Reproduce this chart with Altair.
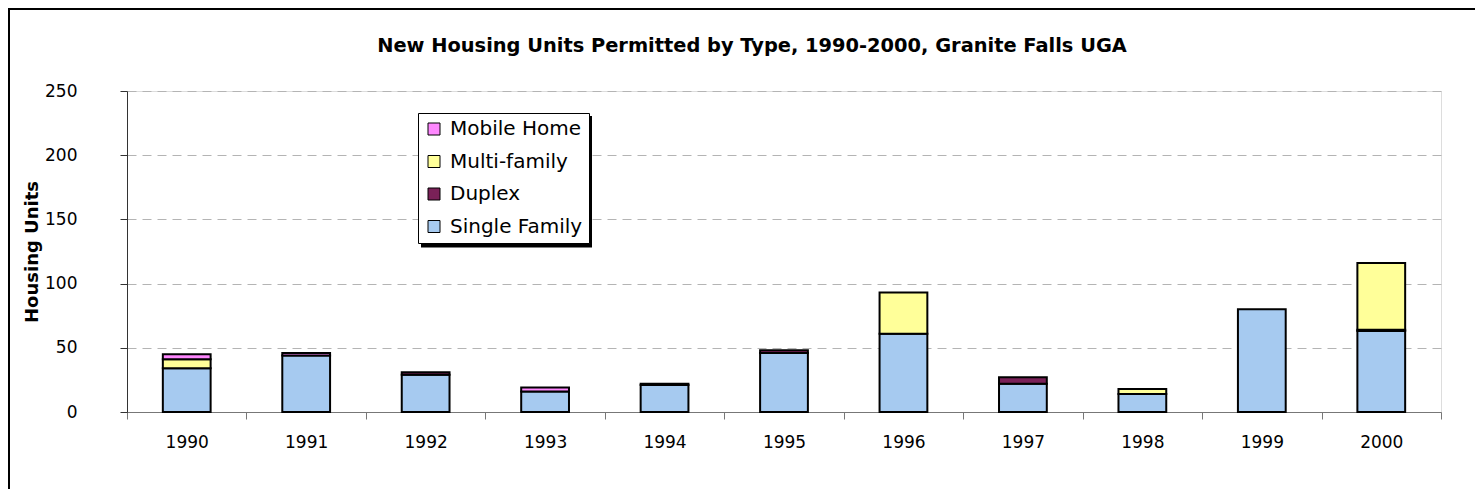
import altair as alt
import pandas as pd

years = ["1990", "1991", "1992", "1993", "1994", "1995", "1996", "1997", "1998", "1999", "2000"]
single_family = [34, 44, 29, 16, 21, 46, 61, 22, 14, 80, 63]
duplex = [0, 0, 2, 0, 1, 2, 0, 5, 0, 0, 1]
multi_family = [7, 0, 0, 0, 0, 0, 32, 0, 4, 0, 52]
mobile_home = [4, 2, 0, 3, 0, 0, 0, 0, 0, 0, 0]

types = ["Single Family", "Duplex", "Multi-family", "Mobile Home"]
legend_order = ["Mobile Home", "Multi-family", "Duplex", "Single Family"]
colors = ["#FF88FF", "#FFFF99", "#7A2158", "#A6CAF0"]
y_ticks = [0, 50, 100, 150, 200, 250]

series = [single_family, duplex, multi_family, mobile_home]
rows = []
for k, (t, vals) in enumerate(zip(types, series)):
    for yr, v in zip(years, vals):
        if v > 0:
            rows.append({"Year": yr, "Type": t, "Units": v, "order": k})
df = pd.DataFrame(rows)

W, H = 1314, 321
FONT = "DejaVu Sans"

bars = alt.Chart(df).mark_bar(
    width=alt.RelativeBandSize(0.4), stroke="black", strokeWidth=2
).encode(
    x=alt.X("Year:N", sort=years,
            scale=alt.Scale(domain=years, paddingInner=0, paddingOuter=0),
            axis=alt.Axis(title=None, labelAngle=0, tickBand="extent", tickSize=7,
                          labelPadding=15, domainColor="#777777", tickColor="#777777",
                          labelFontSize=17, labelColor="black", labelFont=FONT,
                          grid=False)),
    y=alt.Y("sum(Units):Q", stack="zero",
            scale=alt.Scale(domain=[0, 250], nice=False),
            axis=alt.Axis(title="Housing Units", values=y_ticks, tickSize=7,
                          labelPadding=43, domainColor="#333333", tickColor="#333333",
                          labelFontSize=17, labelColor="black", labelFont=FONT,
                          titleFont=FONT, titleFontSize=18, titleFontWeight="bold",
                          titleColor="black", titleX=-95, titleY=H / 2,
                          titleAngle=270, titleAlign="center", titleBaseline="middle",
                          grid=True, gridColor="#b4b4b4", gridDash=[9, 6], gridWidth=1)),
    color=alt.Color("Type:N",
                    scale=alt.Scale(domain=legend_order, range=colors),
                    legend=alt.Legend(title=None, orient="none", legendX=291, legendY=22,
                                      symbolType="square", symbolSize=144,
                                      symbolStrokeColor="black", symbolStrokeWidth=1,
                                      labelFontSize=20, labelFont=FONT, labelColor="black",
                                      labelOffset=6, rowPadding=12.5, padding=6,
                                      fillColor="white", strokeColor="black")),
    order=alt.Order("order:Q", sort="ascending"),
)

shadow = alt.Chart().mark_rect(color="black").encode(
    x=alt.value(294), x2=alt.value(465), y=alt.value(25), y2=alt.value(156.5)
)

frame = alt.Chart().mark_rect(fill=None, stroke="black", strokeWidth=2).encode(
    x=alt.value(-118), x2=alt.value(W + 100), y=alt.value(-82), y2=alt.value(H + 200)
)

chart = alt.layer(frame, shadow, bars).properties(
    width=W, height=H,
    title=alt.Title("New Housing Units Permitted by Type, 1990-2000, Granite Falls UGA",
                    font=FONT, fontSize=19.4, fontWeight="bold", color="black",
                    anchor="middle", dx=-32, offset=-48),
    autosize=alt.AutoSizeParams(type="none"),
    padding={"left": 119, "top": 83, "right": 34, "bottom": 77},
).configure_view(stroke=None).configure(background="white")

chart.save("out.html", embed_options={"renderer": "svg", "actions": False})
